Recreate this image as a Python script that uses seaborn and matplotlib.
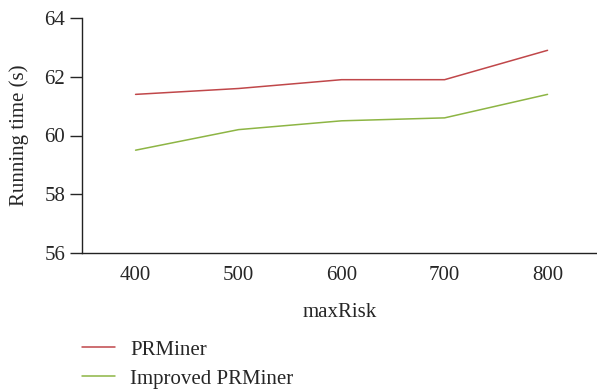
import matplotlib
matplotlib.use("Agg")
import matplotlib.pyplot as plt
import seaborn as sns
import pandas as pd

max_risk = [400, 500, 600, 700, 800]
prminer = [61.4, 61.6, 61.9, 61.9, 62.9]
improved_prminer = [59.5, 60.2, 60.5, 60.6, 61.4]
series_names = ["PRMiner", "Improved PRMiner"]
y_ticks = [56, 58, 60, 62, 64]

df = pd.DataFrame({
    "maxRisk": max_risk * 2,
    "time": prminer + improved_prminer,
    "method": [series_names[0]] * len(max_risk) + [series_names[1]] * len(max_risk),
})

sns.set_style("ticks")
plt.rcParams["font.family"] = ["Liberation Serif", "DejaVu Serif"]

fig = plt.figure(figsize=(5.97, 3.92), dpi=100)
ax = fig.add_axes([82 / 597, 1 - 253 / 392, 1 - 82 / 597, (253 - 18) / 392])

palette = {series_names[0]: "#c0474a", series_names[1]: "#8db544"}
sns.lineplot(data=df, x="maxRisk", y="time", hue="method", palette=palette,
             linewidth=1.1, ax=ax, legend=False)

fs = 15
ax.set_xlim(348, 848)
ax.set_ylim(56, 64)
ax.set_xticks(max_risk)
ax.set_yticks(y_ticks)
ax.tick_params(axis="x", length=0, pad=9, labelsize=fs)
ax.tick_params(axis="y", length=9, width=1, pad=3, labelsize=fs)
ax.set_xlabel("maxRisk", fontsize=fs, labelpad=13)
ax.set_ylabel("Running time (s)", fontsize=fs, labelpad=11)
sns.despine(ax=ax)
for s in ("left", "bottom"):
    ax.spines[s].set_linewidth(1.0)
    ax.spines[s].set_color("#222222")

handles = [plt.Line2D([], [], color=palette[n], linewidth=1.1) for n in series_names]
fig.legend(handles, series_names, loc="upper left",
           bbox_to_anchor=(82 / 597, 1 - 340 / 392), frameon=False,
           fontsize=fs, handlelength=1.6, handletextpad=0.7,
           labelspacing=0.45, borderaxespad=0, borderpad=0)

fig.savefig("out.png", dpi=100)
